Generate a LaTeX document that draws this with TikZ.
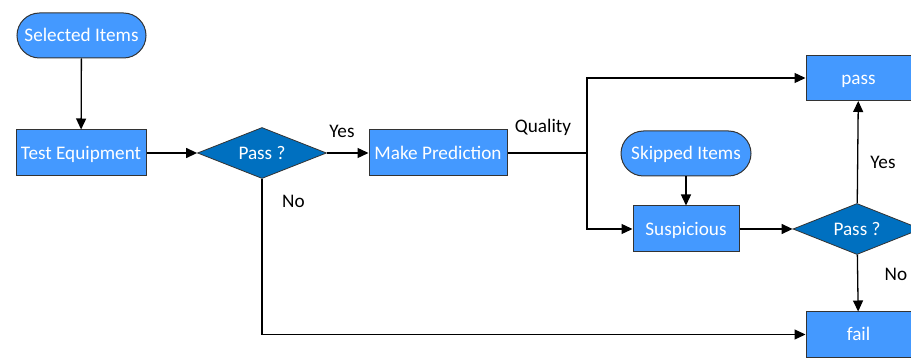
\documentclass[tikz,border=0pt]{standalone}
\usepackage{fontspec}
\setmainfont{Carlito}
\usetikzlibrary{shapes.geometric,shapes.misc,arrows.meta}
\definecolor{boxblue}{HTML}{4499FF}
\definecolor{diablue}{HTML}{0070C0}
\definecolor{edgegray}{HTML}{333333}
\begin{document}
\begin{tikzpicture}[x=1pt,y=-1pt,
  font=\fontsize{19.2}{22}\selectfont,
  proc/.style={draw=edgegray,line width=1pt,fill=boxblue,text=white,minimum height=46pt,inner sep=0pt,text height=15pt,text depth=2pt},
  term/.style={draw=edgegray,line width=1pt,fill=boxblue,text=white,rounded rectangle,minimum height=45pt,inner sep=0pt,text height=15pt,text depth=2pt},
  dec/.style={draw=edgegray,line width=0.8pt,fill=diablue,shape=diamond,minimum height=51pt,inner sep=0pt},
  dectext/.style={text=white,inner sep=0pt,text height=15pt,text depth=2pt},
  conn/.style={line width=1.3pt,-{Triangle[length=11pt,width=10pt]}},
  plain/.style={line width=1.3pt},
  lbl/.style={text=black}]
\useasboundingbox (0,0) rectangle (911,358);
\node[term,minimum width=129pt] (sel) at (81.5,35.5) {Selected Items};
\node[proc,minimum width=130pt] (test) at (81,153) {Test Equipment};
\node[dec,minimum width=129pt] (p1) at (262,153) {};
\node[dectext] (p1t) at (p1.center) {Pass ?};
\node[proc,minimum width=138pt] (pred) at (438,153) {Make Prediction};
\node[proc,minimum width=105pt,minimum height=45pt] (pass) at (858.5,78) {pass};
\node[term,minimum width=130pt] (skip) at (686,153.5) {Skipped Items};
\node[proc,minimum width=106pt] (susp) at (686,229) {Suspicious};
\node[dec,minimum width=128pt] (p2) at (857,229) {};
\node[dectext] (p2t) at (p2.center) {Pass ?};
\node[proc,minimum width=105pt,minimum height=45pt] (fail) at (858.5,334.5) {fail};
\coordinate (br) at (587,153);
\coordinate (nc) at (262,334.5);
\draw[conn] (sel) -- (test);
\draw[conn] (test) -- (p1);
\draw[conn] (p1) -- (pred);
\draw[plain] (pred) -- (br);
\draw[conn] (br) |- (pass);
\draw[conn] (br) |- (susp);
\draw[conn] (skip) -- (susp);
\draw[conn] (susp) -- (p2);
\draw[conn] (p2) -- (pass);
\draw[conn] (p2) -- (fail);
\draw[conn] (p1.south) -- (nc) -- (fail);
\node[lbl] (yes1) at (342,131) {Yes};
\node[lbl] (no1) at (293.5,201) {No};
\node[lbl] (qual) at (543,127) {Quality};
\node[lbl] (yes2) at (883,162) {Yes};
\node[lbl] (no2) at (896,274) {No};
\end{tikzpicture}
\end{document}
